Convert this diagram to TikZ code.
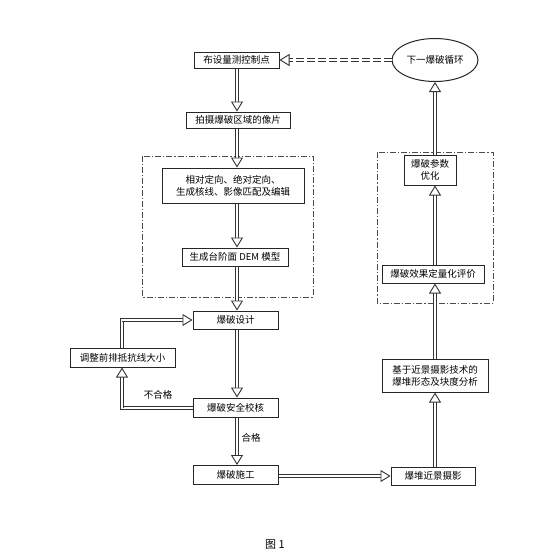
\documentclass[tikz,border=0pt]{standalone}
\usepackage{fontspec}
\newfontfamily\cjk{Noto Sans CJK SC}
\usetikzlibrary{arrows.meta,shapes.geometric,calc}
\newcommand\DA[3][]{%
  \draw[shaft,#1,shorten >=8pt] #2 -- #3;
  \draw[tipst] #2 -- #3;}
\begin{document}
\begin{tikzpicture}[x=1pt,y=-1pt,
  box/.style={draw=black!85, line width=1pt, fill=white, inner sep=1pt, font=\cjk\fontsize{9.5}{12}\selectfont, align=center, text=black},
  grp/.style={draw=black!70, line width=0.9pt, dash pattern=on 6pt off 2pt on 1.2pt off 2pt},
  shaft/.style={draw=black!80, double=white, double distance=2.4pt, line width=0.9pt},
  longdash/.style={dash pattern=on 8pt off 3pt},
  tipst/.style={draw=white, line width=0.05pt, -{Triangle[open, color=black!80, fill=white, length=10pt, width=12pt, line width=0.9pt]}},
  lbl/.style={font=\cjk\fontsize{9.5}{12}\selectfont, text=black}]
\useasboundingbox (0,0) rectangle (549,560);
% groups
\draw[grp] (142,156) rectangle (313,297);
\draw[grp] (377,152) rectangle (493,303);
% nodes
\node[box, minimum width=85pt, minimum height=16pt] (n1) at (236.5,60) {布设量测控制点};
\node[box, minimum width=104pt, minimum height=16pt] (n2) at (238,120) {拍摄爆破区域的像片};
\node[box, minimum width=142pt, minimum height=35pt] (n3) at (233,185.5) {相对定向、绝对定向、\\生成核线、影像匹配及编辑};
\node[box, minimum width=106pt, minimum height=18pt] (n4) at (235,257) {生成台阶面 DEM 模型};
\node[box, minimum width=85pt, minimum height=18pt] (n5) at (235.5,320) {爆破设计};
\node[box, minimum width=105pt, minimum height=19pt] (n6) at (122.5,357.5) {调整前排抵抗线大小};
\node[box, minimum width=85pt, minimum height=19pt] (n7) at (235.5,407.5) {爆破安全校核};
\node[box, minimum width=85pt, minimum height=19pt] (n8) at (235.5,475) {爆破施工};
\node[box, minimum width=84pt, minimum height=18pt] (n9) at (433,476) {爆堆近景摄影};
\node[box, minimum width=106pt, minimum height=33pt] (n10) at (435,375.5) {基于近景摄影技术的\\爆堆形态及块度分析};
\node[box, minimum width=102pt, minimum height=18pt] (n11) at (433,274) {爆破效果定量化评价};
\node[box, minimum width=52pt, minimum height=30pt] (n12) at (430,170) {爆破参数\\优化};
\node[box, ellipse, inner sep=0pt, minimum width=86pt, minimum height=43pt] (n13) at (435,60) {下一爆破循环};
% helper coordinates
\coordinate (c1) at (122,408);
\coordinate (c2) at (122,320);
% arrows
\DA{(n1.south -| 237,0)}{(237,0 |- n2.north)}
\DA{(n2.south -| 237,0)}{(237,0 |- n3.north)}
\DA{(n3.south -| 237,0)}{(237,0 |- n4.north)}
\DA{(n4.south -| 237,0)}{(237,0 |- n5.north)}
\DA{(n5.south -| 237,0)}{(237,0 |- n7.north)}
\DA{(n7.south -| 237,0)}{(237,0 |- n8.north)}
\node[lbl, right] (l1) at (238,438) {合格};
\DA{(n8.east |- 0,476)}{(n9.west |- 0,476)}
\DA{(n9.north -| 435,0)}{(435,0 |- n10.south)}
\DA{(n10.north -| 435,0)}{(435,0 |- n11.south)}
\DA{(n11.north -| 435,0)}{(435,0 |- n12.south)}
\DA{(n12.north -| 435,0)}{(435,0 |- n13.south)}
\DA[longdash]{(n13.west)}{(n1.east)}
% feedback loop
\draw[shaft] (n7.west |- c1) -- (c1) -- ([yshift=-3pt]n6.south -| c1);
\DA{(c1)}{(n6.south -| c1)}
\draw[shaft] (n6.north -| c2) -- (c2) -- ([xshift=-5pt]n5.west |- c2);
\DA{(c2)}{(n5.west |- c2)}
\node[lbl] (l2) at (158,395) {不合格};
% caption
\node[font=\cjk\fontsize{11}{13}\selectfont] (cap) at (275,545) {图 1};
\end{tikzpicture}
\end{document}
